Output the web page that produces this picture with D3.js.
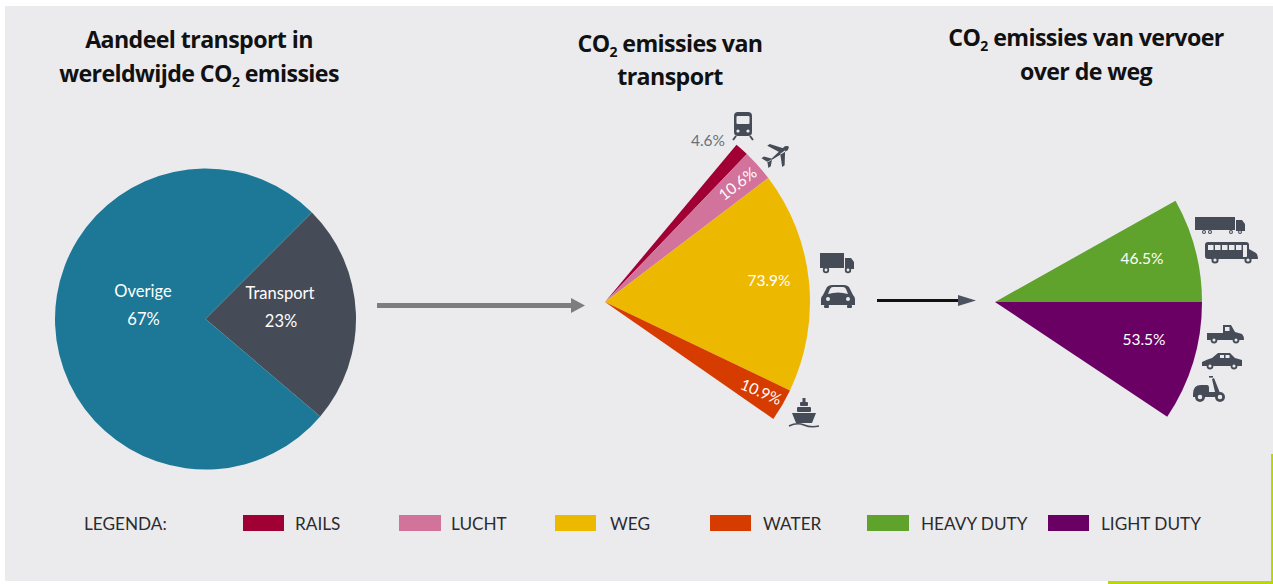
<!DOCTYPE html>
<html>
<head>
<meta charset="utf-8">
<script src="https://cdn.jsdelivr.net/npm/d3@7"></script>
<style>
html, body { margin: 0; padding: 0; background: #fff; overflow: hidden; }
text { font-family: "Open Sans", sans-serif; }
.title { font-size: 23.2px; font-weight: 700; fill: #111; text-anchor: middle; letter-spacing: -0.6px; }
.legend { font-family: Lato, sans-serif; font-size: 17.2px; font-weight: 400; fill: #2b2b2e; }
.inner { font-family: Lato, sans-serif; font-size: 16.5px; fill: #fff; text-anchor: middle; }
.pct { font-family: Lato, sans-serif; font-size: 15.5px; fill: #fff; text-anchor: middle; }
.pct-out { font-family: Lato, sans-serif; font-size: 15.5px; fill: #6b7079; text-anchor: middle; }
</style>
</head>
<body>
<svg id="chart" width="1273" height="584"></svg>
<script>
const shareLabels = ["Transport", "Overige"];
const shareValues = [23.7, 76.3];
const shareText = ["23%", "67%"];
const shareColors = ["#464c57", "#1c7896"];

const transportModes = ["RAILS", "LUCHT", "WEG", "WATER"];
const transportValues = [4.6, 10.6, 73.9, 10.9];
const transportColors = ["#a00034", "#d2739c", "#ecb800", "#d63c00"];

const roadModes = ["HEAVY DUTY", "LIGHT DUTY"];
const roadValues = [46.5, 53.5];
const roadColors = ["#5fa22c", "#6a0063"];

const deg = Math.PI / 180;
const ink = "#464c57";
const svg = d3.select("#chart");

// panel + lime corner
svg.append("rect").attr("x", 1108).attr("y", 454).attr("width", 165).attr("height", 130).attr("fill", "#bcd600");
svg.append("rect").attr("x", 5).attr("y", 6).attr("width", 1266).attr("height", 575).attr("fill", "#ebebee");
svg.append("rect").attr("x", 1271).attr("y", 6).attr("width", 2).attr("height", 448).attr("fill", "#ebebee");

function title(lines, x, ys) {
    lines.forEach((l, i) => {
        const t = svg.append("text").attr("class", "title").attr("x", x).attr("y", ys[i]);
        if (l.includes("CO2")) {
            const parts = l.split("CO2");
            t.append("tspan").text(parts[0] + "CO");
            t.append("tspan").attr("font-size", 14).attr("dy", 5).text("2");
            t.append("tspan").attr("dy", -5).text(parts[1]);
        } else {
            t.text(l);
        }
    });
}
title(["Aandeel transport in", "wereldwijde CO2 emissies"], 199, [48, 82]);
title(["CO2 emissies van", "transport"], 670, [52, 85]);
title(["CO2 emissies van vervoer", "over de weg"], 1086, [46, 80]);

function fan(cx, cy, r, start, end, values, colors) {
    const pie = d3.pie().sort(null).startAngle(start * deg).endAngle(end * deg);
    const arc = d3.arc().innerRadius(0).outerRadius(r);
    const g = svg.append("g").attr("transform", `translate(${cx},${cy})`);
    g.selectAll("path").data(pie(values)).join("path")
        .attr("d", arc)
        .attr("fill", (d, i) => colors[i]);
}

fan(205.5, 319, 150.5, 45, 405, shareValues, shareColors);
fan(605, 302, 205, 39.9, 124.8, transportValues, transportColors);
fan(995, 302, 207, 60.7, 123.7, roadValues, roadColors);

// labels first pie
svg.append("text").attr("class", "inner").attr("x", 143).attr("y", 297).text(shareLabels[1]);
svg.append("text").attr("class", "inner").attr("x", 143.5).attr("y", 325).text(shareText[1]);
svg.append("text").attr("class", "inner").attr("x", 280).attr("y", 299).text(shareLabels[0]);
svg.append("text").attr("class", "inner").attr("x", 281).attr("y", 327).text(shareText[0]);

// percent labels
const pctFmt = v => v.toFixed(1) + "%";
svg.append("text").attr("class", "pct-out").attr("x", 708).attr("y", 146).text(pctFmt(transportValues[0]));
svg.append("text").attr("class", "pct").attr("transform", "translate(741,188) rotate(-38)").text(pctFmt(transportValues[1]));
svg.append("text").attr("class", "pct").attr("x", 769).attr("y", 286).text(pctFmt(transportValues[2]));
svg.append("text").attr("class", "pct").attr("transform", "translate(759,397) rotate(23)").text(pctFmt(transportValues[3]));
svg.append("text").attr("class", "pct").attr("x", 1142).attr("y", 264).text(pctFmt(roadValues[0]));
svg.append("text").attr("class", "pct").attr("x", 1144).attr("y", 345).text(pctFmt(roadValues[1]));

// arrows
function arrow(x1, x2, y, color, headColor, w, head, half) {
    svg.append("line").attr("x1", x1).attr("x2", x2 - head).attr("y1", y).attr("y2", y).attr("stroke", color).attr("stroke-width", w);
    svg.append("path").attr("d", `M${x2 - head},${y - half}L${x2},${y}L${x2 - head},${y + half}Z`).attr("fill", headColor);
}
arrow(377, 585, 305.5, "#7d7d7d", "#7d7d7d", 5, 14, 7.5);
arrow(877, 976, 300.5, "#111", "#4d535e", 3, 18, 5.5);

// icons: small shapes in local coordinates
function icon(x, y, draw, rot) {
    const g = svg.append("g").attr("transform", `translate(${x},${y})` + (rot ? ` rotate(${rot})` : "")).attr("fill", ink);
    draw(g);
}
const box = (g, x, y, w, h, rx, f) => g.append("rect").attr("x", x).attr("y", y).attr("width", w).attr("height", h).attr("rx", rx || 0).attr("fill", f || ink);
const dot = (g, x, y, r, f) => g.append("circle").attr("cx", x).attr("cy", y).attr("r", r).attr("fill", f || ink);
const wheel = (g, x, y, r) => { dot(g, x, y, r); dot(g, x, y, r * 0.45, "#ebebee"); };

function train(g) {
    box(g, -9, -13, 18, 24, 4);
    box(g, -6.5, -9, 13, 8, 1, "#ebebee");
    dot(g, -5, 6, 1.6, "#ebebee"); dot(g, 5, 6, 1.6, "#ebebee");
    g.append("path").attr("d", "M-7,11L-10,15M7,11L10,15").attr("stroke", ink).attr("stroke-width", 2);
}
function plane(g) {
    g.append("path").attr("d", "M-14,1L10,-2.5Q16,0 10,2.5L-14,1ZM-13,1L-16,-6L-13,-6L-8,0ZM-13,0L-16,6L-13,6L-8,1ZM2,-1L-4,-13L-1,-13L8,-1ZM2,1L-4,13L-1,13L8,1Z");
}
function truck(g) {
    box(g, -17, -10, 24, 15);
    g.append("path").attr("d", "M8,-5H14L17,-1V6H8Z");
    wheel(g, -11, 7, 3.2); wheel(g, 11, 7, 3.2);
}
function car(g) {
    g.append("path").attr("d", "M-15,-1L-11,-9Q-9,-11 -6,-11H6Q9,-11 11,-9L15,-1Q17,1 17,3V9H-17V3Q-17,1 -15,-1Z");
    g.append("path").attr("d", "M-10,-2L-8,-7Q-7,-9 -5,-9H5Q7,-9 8,-7L10,-2Q0,-5 -10,-2Z").attr("fill", "#ebebee");
    box(g, -14, 9, 5, 3, 1); box(g, 9, 9, 5, 3, 1);
    dot(g, -10, 3, 2, "#ebebee"); dot(g, 10, 3, 2, "#ebebee");
}
function ship(g) {
    g.append("path").attr("d", "M-12,1L12,1L8,11H-8Z");
    box(g, -7, -5, 14, 5, 1); box(g, -4, -10, 8, 4, 1); box(g, -1.5, -14, 3, 4);
    g.append("path").attr("d", "M-15,14Q-7,10 0,13T15,14").attr("fill", "none").attr("stroke", ink).attr("stroke-width", 1.6);
}
function semi(g) {
    box(g, -25, -8, 40, 13);
    g.append("path").attr("d", "M16,-5H22L25,-1V6H16Z");
    wheel(g, -16, 7, 2); wheel(g, -10, 7, 2); wheel(g, 11, 7, 2); wheel(g, 20, 7, 2);
}
function bus(g) {
    box(g, -26, -10, 44, 17, 3);
    g.append("path").attr("d", "M18,-3L25,1Q27,3 27,7H18Z");
    [-23, -16, -9, -2, 5].forEach(x => box(g, x, -7, 5.5, 5, 0, "#ebebee"));
    box(g, 12, -7, 4, 12, 0, "#ebebee");
    wheel(g, -16, 8, 3.6); wheel(g, 17, 8, 3.6);
}
function pickup(g) {
    g.append("path").attr("d", "M-18,-2H-2V-10H6L10,-3L17,-1Q19,1 19,5H-18Z");
    box(g, 0, -8, 4.5, 4, 0, "#ebebee");
    wheel(g, -11, 5, 3.4); wheel(g, 11, 5, 3.4);
}
function sedan(g) {
    g.append("path").attr("d", "M-20,1Q-14,-2 -10,-3L-4,-8H8L13,-3L20,-1V5H-20Z");
    box(g, -2, -6, 4, 3, 0, "#ebebee"); box(g, 3.5, -6, 4, 3, 0, "#ebebee");
    wheel(g, -12, 5, 3.4); wheel(g, 12, 5, 3.4);
}
function scooter(g) {
    g.append("path").attr("d", "M-16,4Q-16,-5 -8,-5H-2Q0,-5 0,-2V2H6L3,-11L5,-12L11,3Q14,5 14,7H-16Z");
    wheel(g, -9, 7, 5); wheel(g, 11, 7, 5);
    box(g, 0, -14, 4, 1.6);
}
icon(743, 125, train);
icon(778, 154, plane, -35);
icon(837, 263, truck);
icon(838, 296, car);
icon(804, 412, ship);
icon(1220, 225, semi);
icon(1231, 252, bus);
icon(1225, 335, pickup);
icon(1222, 361, sedan);
icon(1209, 390, scooter);

// legend
const legendNames = transportModes.concat(roadModes);
const legendColors = transportColors.concat(roadColors);
const legendBoxX = [243, 399, 555, 710, 867, 1048];
const legendTextX = [295, 451, 610, 763, 921, 1101];
const legendBoxW = [41, 42, 41, 41, 42, 41];
svg.append("text").attr("class", "legend").attr("x", 84).attr("y", 530).text("LEGENDA:");
legendNames.forEach((n, i) => {
    box(svg, legendBoxX[i], 515, legendBoxW[i], 16, 0, legendColors[i]);
    svg.append("text").attr("class", "legend").attr("x", legendTextX[i]).attr("y", 530).text(n);
});
</script>
</body>
</html>
